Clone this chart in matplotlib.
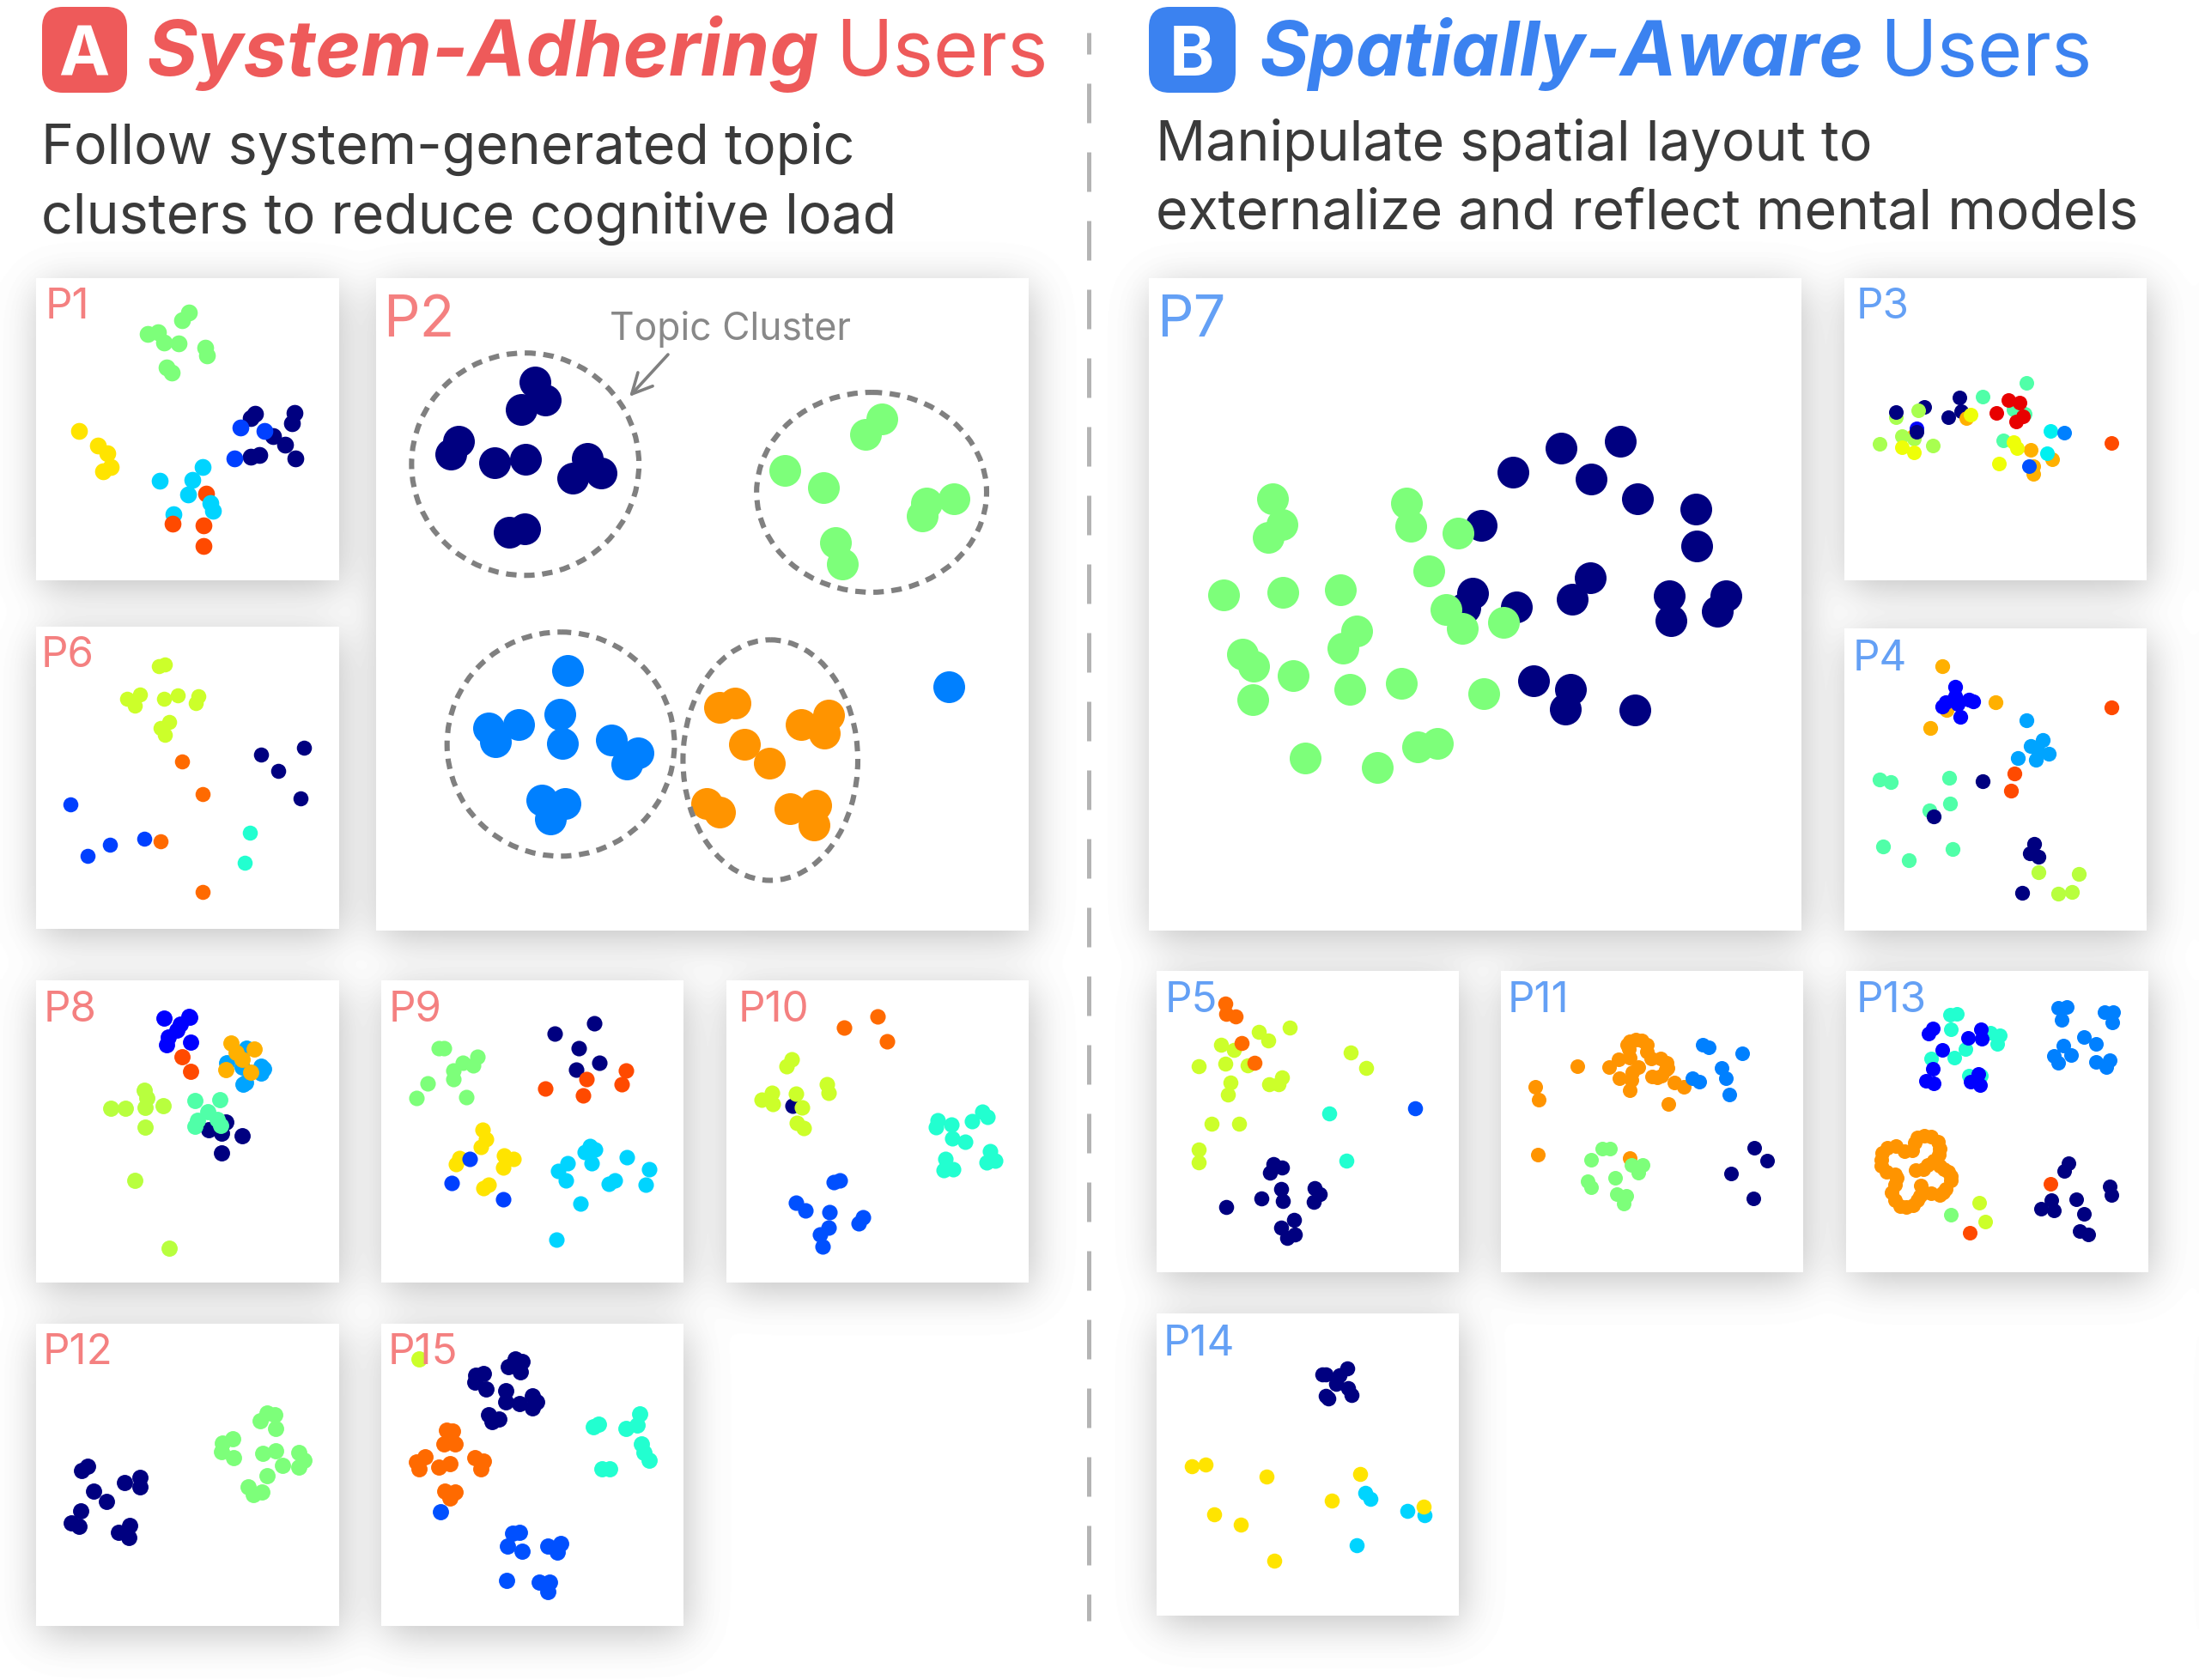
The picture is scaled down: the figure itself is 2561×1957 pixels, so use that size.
import numpy as np
import matplotlib
matplotlib.use('Agg')
import matplotlib.pyplot as plt
from matplotlib.patches import Ellipse, FancyBboxPatch

W, H = 2561, 1957

# colores
navy = '#000080'
blue = '#0000ff'
blue2 = '#0040ff'
blue3 = '#0050ff'
sky = '#0080ff'
sky2 = '#00a4ff'
cyan = '#00d4ff'
cyan2 = '#00f0f0'
aqua = '#22ffd0'
aqua2 = '#50ffa8'
green = '#7dff7a'
lime = '#ccff2a'
lime2 = '#a8ff50'
lime3 = '#b8ff3e'
yellow = '#ffe400'
yellow2 = '#eeff08'
amber = '#ffb000'
orange = '#ff9400'
orange2 = '#ff6a00'
red = '#ff4a00'
pure_red = '#e80000'

# P1
p1_green = [(249,108),(238,125),(186,157),(202,153),(211,176),(233,178),(273,188),(276,206),(215,234),(222,246)]
p1_yellow = [(81,381),(110,415),(124,433),(130,465),(118,475)]
p1_navy = [(349,342),(342,352),(409,339),(405,364),(377,394),(395,413),(355,437),(342,441),(411,446)]
p1_blue = [(327,373),(363,382),(318,445)]
p1_cyan = [(270,465),(204,496),(254,494),(247,529),(225,575),(281,548),(285,567)]
p1_red = [(224,595),(271,599),(271,647)]
p1_red_low = [(275,526)]
# P6
p6_lime = [(212,921),(203,926),(154,1001),(174,991),(166,1016),(210,1000),(231,992),(263,994),(259,1010),(219,1054),(205,1068),(212,1085)]
p6_navy = [(358,1129),(423,1114),(384,1168),(418,1231)]
p6_orange = [(238,1146),(270,1222),(206,1331),(269,1447)]
p6_blue = [(68,1245),(128,1339),(95,1364),(181,1325)]
p6_aqua = [(341,1310),(333,1381)]
# P2
p2_navy = [(775,268),(790,310),(754,332),(658,405),(647,434),(713,455),(760,447),(854,445),(875,478),(832,490),(736,615),(759,608)]
p2_green = [(1302,353),(1278,389),(1155,473),(1214,513),(1370,548),(1412,537),(1364,577),(1232,640),(1242,688)]
p2_sky = [(825,935),(812,1035),(750,1060),(704,1067),(714,1100),(817,1104),(891,1095),(931,1125),(915,1151),(785,1234),(820,1243),(798,1279),(1405,973)]
p2_orange = [(1079,1011),(1055,1020),(1221,1037),(1180,1060),(1215,1080),(1094,1105),(1131,1149),(1036,1243),(1055,1262),(1163,1255),(1202,1246),(1199,1292)]
p2_centers = [(760,458),(1287,523),(814,1105),(1133,1142)]
p2_widths = [346,350,346,266]
p2_heights = [514,462,518,556]
# P8
p8_blue = [(211,112),(249,108),(235,125),(217,155),(215,172),(251,167),(250,110),(230,140)]
p8_sky = [(336,180),(306,215),(330,225),(358,222),(362,228),(358,238),(331,265),(335,260)]
p8_amber = [(313,168),(320,190),(329,207),(348,183),(305,231),(342,236)]
p8_red = [(238,201),(251,235)]
p8_lime = [(129,319),(152,320),(181,279),(184,296),(182,318),(209,314),(182,363),(166,486),(219,643)]
p8_navy = [(305,352),(278,370),(298,378),(330,384),(298,423)]
p8_aqua = [(258,302),(296,301),(277,328),(262,348),(258,361),(292,345),(297,360)]
# P9
p9_green = [(628,181),(636,181),(688,200),(665,215),(681,220),(651,232),(651,252),(612,262),(594,297),(671,295)]
p9_navy = [(865,123),(805,148),(841,180),(873,215),(837,230)]
p9_red = [(914,232),(853,253),(907,265),(790,274),(848,291)]
p9_yellow = [(695,370),(701,391),(692,410),(660,435),(655,448),(728,430),(742,438),(726,456),(704,497),(697,504)]
p9_blue = [(676,438),(648,492),(727,531)]
p9_cyan = [(859,408),(866,415),(851,422),(861,447),(824,447),(810,465),(822,486),(915,434),(949,460),(896,486),(887,495),(943,497),(844,540),(808,624)]
# P10
p10_orange = [(1296,108),(1245,133),(1310,165)]
p10_navy = [(1166,314)]
p10_lime = [(1165,206),(1158,222),(1135,285),(1119,301),(1137,309),(1172,286),(1219,265),(1222,284),(1181,318),(1173,353),(1184,366)]
p10_aqua = [(1387,347),(1385,364),(1408,358),(1410,389),(1429,397),(1456,327),(1463,340),(1440,349),(1467,420),(1462,445),(1475,442),(1399,438),(1397,463),(1411,461)]
p10_blue = [(1239,486),(1229,490),(1172,538),(1186,556),(1223,560),(1274,573),(1267,586),(1222,595),(1208,612),(1212,640)]
# P12
p12_navy = [(95,1148),(85,1158),(174,1173),(151,1185),(174,1196),(104,1206),(123,1230),(84,1251),(69,1278),(81,1287),(158,1284),(142,1300),(157,1312)]
p12_green = [(367,1024),(379,1029),(357,1042),(381,1060),(315,1085),(299,1094),(298,1113),(317,1127),(361,1118),(381,1111),(416,1115),(423,1133),(416,1149),(391,1146),(367,1170),(339,1195),(360,1207),(347,1214)]
# P15
p15_lime = [(598,899)]
p15_navy = [(745,899),(755,905),(735,917),(753,930),(697,934),(685,937),(683,953),(701,968),(730,972),(771,984),(778,998),(730,998),(752,1002),(771,1012),(705,1028),(720,1039),(709,1045)]
p15_aqua = [(934,1026),(931,1053),(914,1061),(872,1050),(864,1057),(937,1096),(941,1115),(949,1133),(877,1153),(888,1154)]
p15_orange = [(640,1065),(650,1066),(637,1097),(654,1096),(607,1125),(594,1137),(598,1153),(628,1150),(646,1141),(683,1128),(697,1136),(692,1153),(638,1206),(653,1207),(645,1222)]
p15_blue = [(631,1253),(751,1300),(741,1303),(733,1333),(755,1345),(814,1326),(795,1332),(809,1346),(732,1411),(781,1415),(797,1416),(795,1437)]
# P7
p7_navy = [(741,405),(651,421),(578,476),(697,492),(767,537),(856,562),(857,648),(530,600),(696,720),(668,770),(517,757),(505,790),(583,787),(816,763),(818,819),(902,763),(889,798),(609,958),(665,978),(658,1024),(764,1027)]
p7_green = [(212,538),(226,597),(205,628),(416,548),(423,601),(494,618),(450,704),(138,760),(228,754),(315,749),(340,844),(319,883),(476,793),(501,838),(564,824),(166,898),(183,925),(243,946),(182,1002),(330,979),(408,964),(533,988),(262,1137),(372,1159),(433,1111),(463,1103)]
# P3
p3_aqua = [(1359,271),(1292,303),(1339,332),(1357,341),(1324,404)]
p3_navy_low = [(1204,326),(1260,336)]
p3_amber = [(1268,352),(1186,394),(1365,425),(1398,447),(1370,480),(1370,463)]
p3_lime = [(1160,349),(1194,333),(1170,394),(1135,412),(1217,415),(1188,400)]
p3_yellow = [(1274,343),(1339,408),(1345,422),(1170,420),(1188,431),(1317,456)]
p3_dark_blue = [(1192,375)]
p3_navy = [(1160,337),(1257,304),(1240,349),(1192,384)]
p3_red = [(1331,309),(1349,316),(1313,339),(1354,347),(1344,360)]
p3_cyan = [(1396,382),(1390,433)]
p3_sky = [(1416,385)]
p3_blue = [(1363,462)]
p3_orange = [(1489,409)]
# P4
p4_amber = [(1231,925),(1312,1009),(1238,1027),(1213,1068)]
p4_blue = [(1250,973),(1250,995),(1272,1003),(1278,1007),(1236,1009),(1231,1018),(1254,1012),(1258,1043)]
p4_red = [(1489,1020),(1341,1174),(1335,1213)]
p4_sky = [(1359,1051),(1384,1097),(1365,1111),(1393,1127),(1376,1120),(1346,1137),(1373,1142)]
p4_aqua = [(1135,1188),(1153,1193),(1242,1184),(1243,1244),(1212,1259),(1141,1342),(1180,1374),(1247,1349)]
p4_navy = [(1292,1192),(1218,1272),(1371,1337),(1364,1359),(1377,1367),(1353,1449)]
p4_lime = [(1377,1401),(1439,1406),(1428,1447),(1407,1451)]
# P5
p5_lime = [(237,154),(191,162),(205,183),(133,192),(153,205),(330,211),(354,247),(99,242),(139,237),(173,240),(226,268),(206,285),(221,285),(147,280),(143,307),(119,376),(161,376),(99,435),(99,464)]
p5_orange = [(140,98),(141,122),(155,128),(165,188),(184,235)]
p5_blue = [(429,340)]
p5_aqua = [(298,351),(324,461)]
p5_navy = [(213,468),(226,476),(208,488),(225,527),(194,548),(227,554),(275,524),(283,538),(274,556),(141,569),(244,597),(225,615),(245,631),(234,639)]
# P11
p11_orange = [(724,245),(739,227),(754,202),(751,192),(756,185),(764,181),(774,182),(781,192),(782,208),(788,225),(802,225),(812,235),(813,246),(810,251),(804,265),(797,268),(790,266),(823,281),(838,290),(756,222),(769,245),(760,257),(758,275),(740,271),(756,298),(814,329),(676,242),(612,290),(616,319),(615,447),(755,455)]
p11_sky = [(867,193),(876,198),(927,213),(895,246),(902,271),(851,271),(861,278),(908,307)]
p11_green = [(713,434),(725,434),(697,459),(758,471),(775,471),(768,488),(733,500),(691,509),(697,522),(736,538),(750,542),(746,561)]
p11_navy = [(945,431),(965,461),(910,490),(944,548)]
# P13
p13_aqua = [(1243,124),(1254,122),(1245,158),(1304,165),(1319,171),(1315,190),(1266,202),(1214,224),(1250,222),(1272,265),(1290,265)]
p13_blue = [(1217,155),(1210,167),(1231,205),(1271,176),(1290,158),(1291,178),(1217,248),(1207,277),(1218,282),(1286,260),(1274,279),(1289,286)]
p13_sky = [(1421,105),(1408,108),(1413,136),(1478,118),(1492,118),(1490,142),(1447,175),(1465,191),(1416,195),(1401,218),(1428,216),(1408,235),(1486,228),(1465,233),(1481,245)]
p13_orange = [(1194,407),(1204,404),(1215,405),(1225,417),(1228,433),(1226,447),(1218,460),(1209,470),(1202,480),(1191,483),(1189,420),(1185,437),(1174,440),(1161,427),(1148,431),(1140,443),(1138,458),(1139,473),(1147,486),(1159,493),(1162,500),(1159,516),(1154,534),(1159,552),(1167,566),(1176,569),(1187,564),(1194,552),(1197,543),(1199,519),(1228,473),(1234,480),(1241,486),(1244,496),(1245,506),(1237,526),(1233,535),(1228,541),(1215,537),(1204,535)]
p13_navy = [(1424,467),(1417,484),(1486,521),(1489,540),(1435,551),(1397,553),(1381,572),(1401,577),(1447,583),(1440,623),(1453,632)]
p13_red = [(1396,514),(1273,628)]
p13_yellow = [(1287,558),(1297,601)]
p13_green = [(1245,585)]
# P14
p14_navy = [(325,941),(287,954),(293,955),(313,957),(308,977),(326,987),(331,1003),(292,1004),(296,1010)]
p14_cyan = [(352,1229),(361,1242),(416,1270),(443,1280),(339,1351)]
p14_gold = [(88,1167),(109,1163),(202,1191),(345,1185),(302,1247),(122,1279),(163,1302),(214,1385),(441,1261)]

# name, label color, panel box in px, data limits, label offset, dot size, series
RED_L = '#f48080'
BLUE_L = '#64a0f5'
big = 710

paneles = [
    ('P1', RED_L, (42,324,395,676), (16,477,727,28), (11,47), 200,
     [(green,p1_green),(yellow,p1_yellow),(navy,p1_navy),(blue2,p1_blue),(red,p1_red_low),(cyan,p1_cyan),(red,p1_red)]),
    ('P6', RED_L, (42,730,395,1082), (16,477,1533,834), (6,47), 160,
     [(lime,p6_lime),(navy,p6_navy),(orange2,p6_orange),(blue2,p6_blue),(aqua,p6_aqua)]),
    ('P2', RED_L, (438,324,1198,1084), (533,1526,1536,28), (8,68), big,
     [(navy,p2_navy),(green,p2_green),(sky,p2_sky),(orange,p2_orange)]),
    ('P8', RED_L, (42,1142,395,1494), (16,477,723,24), (9,48), 185,
     [(blue,p8_blue),(sky2,p8_sky),(amber,p8_amber),(red,p8_red),(lime3,p8_lime),(navy,p8_navy),(aqua2,p8_aqua)]),
    ('P9', RED_L, (444,1142,796,1494), (541,1001,723,24), (9,48), 170,
     [(green,p9_green),(navy,p9_navy),(red,p9_red),(yellow,p9_yellow),(blue2,p9_blue),(cyan,p9_cyan)]),
    ('P10', RED_L, (846,1142,1198,1494), (1066,1526,723,24), (14,48), 170,
     [(orange2,p10_orange),(navy,p10_navy),(lime,p10_lime),(aqua,p10_aqua),(blue3,p10_blue)]),
    ('P12', RED_L, (42,1542,395,1894), (16,477,1517,818), (8,47), 185,
     [(navy,p12_navy),(green,p12_green)]),
    ('P15', RED_L, (444,1542,796,1894), (541,1001,1517,818), (8,47), 185,
     [(lime,p15_lime),(navy,p15_navy),(aqua,p15_aqua),(orange2,p15_orange),(blue3,p15_blue)]),
    ('P7', BLUE_L, (1338,324,2098,1084), (24,1017,1536,28), (9,68), big,
     [(navy,p7_navy),(green,p7_green)]),
    ('P3', BLUE_L, (2148,324,2500,676), (1082,1542,727,28), (14,47), 150,
     [(aqua2,p3_aqua),(navy,p3_navy_low),(amber,p3_amber),(lime2,p3_lime),(yellow2,p3_yellow),(blue,p3_dark_blue),(navy,p3_navy),(pure_red,p3_red),(cyan2,p3_cyan),(sky,p3_sky),(blue3,p3_blue),(red,p3_orange)]),
    ('P4', BLUE_L, (2148,732,2500,1084), (1082,1542,1537,838), (10,49), 155,
     [(amber,p4_amber),(blue,p4_blue),(red,p4_red),(sky2,p4_sky),(aqua2,p4_aqua),(navy,p4_navy),(lime3,p4_lime)]),
    ('P5', BLUE_L, (1347,1131,1699,1482), (35,495,719,22), (10,48), 160,
     [(lime,p5_lime),(orange2,p5_orange),(blue3,p5_blue),(aqua,p5_aqua),(navy,p5_navy)]),
    ('P11', BLUE_L, (1748,1131,2100,1482), (559,1020,719,22), (8,48), 150,
     [(orange,p11_orange),(sky,p11_sky),(green,p11_green),(navy,p11_navy)]),
    ('P13', BLUE_L, (2150,1131,2502,1482), (1085,1545,719,22), (12,48), 150,
     [(aqua,p13_aqua),(blue,p13_blue),(sky,p13_sky),(orange,p13_orange),(navy,p13_navy),(red,p13_red),(lime,p13_yellow),(green,p13_green)]),
    ('P14', BLUE_L, (1347,1530,1699,1882), (35,495,1513,814), (8,49), 160,
     [(navy,p14_navy),(cyan,p14_cyan),(yellow,p14_gold)]),
]

plt.rcParams['font.family'] = ['Inter', 'DejaVu Sans']

fig = plt.figure(figsize=(W/100, H/100), dpi=100, facecolor='white')

# sombra de los paneles (rectangulos borrosos)
mask = np.zeros((H, W))
for p in paneles:
    x0, y0, x1, y1 = p[2]
    mask[y0+10:y1+10, x0+4:x1+4] = 1
fy = np.fft.fftfreq(H)[:, None]
fx = np.fft.rfftfreq(W)[None, :]
sigma = 24
blur = np.fft.irfft2(np.fft.rfft2(mask) * np.exp(-2*(np.pi*sigma)**2*(fx**2+fy**2)), s=(H, W))
bg = fig.add_axes([0, 0, 1, 1], zorder=0)
bg.imshow(1 - 0.25*np.clip(blur, 0, 1), cmap='gray', vmin=0, vmax=1, aspect='auto')
bg.axis('off')

ejes = {}
for nombre, col, box, lim, off, s, series in paneles:
    x0, y0, x1, y1 = box
    ax = fig.add_axes([x0/W, 1-y1/H, (x1-x0)/W, (y1-y0)/H], zorder=1, facecolor='white')
    ax.set_xlim(lim[0], lim[1])
    ax.set_ylim(lim[2], lim[3])
    ax.set_xticks([])
    ax.set_yticks([])
    for sp in ax.spines.values():
        sp.set_visible(False)
    for c, pts in series:
        xs, ys = zip(*pts)
        ax.scatter(xs, ys, s=s, c=c, linewidths=0)
    ejes[nombre] = ax

# clusters dibujados en P2
ax2 = ejes['P2']
for c, w, h in zip(p2_centers, p2_widths, p2_heights):
    ax2.add_patch(Ellipse(c, w, h, fill=False, ec='#808080', lw=4.4, ls=(0, (2.0, 1.45))))

over = fig.add_axes([0, 0, 1, 1], zorder=2)
over.set_xlim(0, W)
over.set_ylim(H, 0)
over.axis('off')

for nombre, col, box, lim, off, s, series in paneles:
    fs = 48 if s == big else 35.5
    over.text(box[0]+off[0], box[1]+off[1], nombre, color=col, fontsize=fs, va='baseline')

over.text(710, 396, 'Topic Cluster', color='#888888', fontsize=32, va='baseline')
over.annotate('', xy=(733, 462), xytext=(778, 413),
              arrowprops=dict(arrowstyle='->', color='#808080', lw=2.6, mutation_scale=42, shrinkA=0, shrinkB=0))

# cabeceras
ROJO = '#ee5a5a'
AZUL = '#3b82f0'
over.add_patch(FancyBboxPatch((49, 8), 99, 100, boxstyle='round,pad=0,rounding_size=24', fc=ROJO, ec='none'))
over.add_patch(FancyBboxPatch((1338, 8), 101, 100, boxstyle='round,pad=0,rounding_size=24', fc=AZUL, ec='none'))
over.text(98, 88, 'A', color='white', fontsize=57, weight='bold', ha='center', va='baseline')
over.text(1388, 88, 'B', color='white', fontsize=57, weight='bold', ha='center', va='baseline')
over.text(171, 88, 'System-Adhering', color=ROJO, fontsize=65, weight='bold', style='italic', va='baseline')
over.text(973, 88, 'Users', color=ROJO, fontsize=64.5, va='baseline')
over.text(1467, 88, 'Spatially-Aware', color=AZUL, fontsize=63.2, weight='bold', style='italic', va='baseline')
over.text(2189, 88, 'Users', color=AZUL, fontsize=64.5, va='baseline')

over.text(48.5, 191, 'Follow system-generated topic', color='#3a3a3a', fontsize=46.4, va='baseline')
over.text(48.5, 271.5, 'clusters to reduce cognitive load', color='#3a3a3a', fontsize=46.4, va='baseline')
over.text(1345.5, 186.5, 'Manipulate spatial layout to', color='#3a3a3a', fontsize=46.4, va='baseline')
over.text(1345.5, 266.5, 'externalize and reflect mental models', color='#3a3a3a', fontsize=46.4, va='baseline')

# linea divisoria
over.plot([1268, 1268], [38, 1888], color='#b4b4b4', lw=3.6, ls=(4.2, (9.2, 6.8)))

fig.savefig('out.png', dpi=100)
